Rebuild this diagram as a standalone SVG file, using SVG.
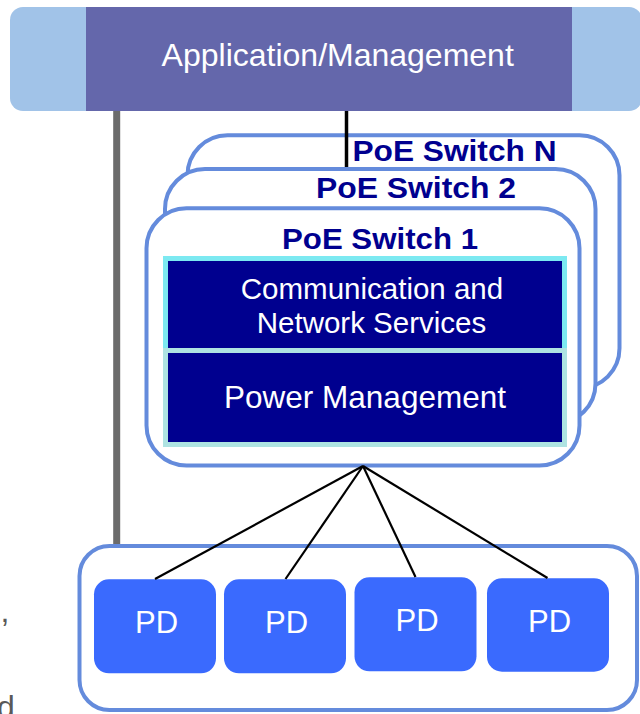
<svg xmlns="http://www.w3.org/2000/svg" width="640" height="714" viewBox="0 0 640 714">
  <style>
    .sw { fill: #ffffff; stroke: #648bdc; stroke-width: 4; }
    .swt { font-family: "Liberation Sans", Arial, sans-serif; font-weight: bold; font-size: 29.5px; fill: #00008f; text-anchor: middle; }
    .wt { font-family: "Liberation Sans", Arial, sans-serif; fill: #ffffff; text-anchor: middle; }
    .pd { fill: #3a6afe; }
    .wire { stroke: #000000; stroke-width: 2.2; fill: none; }
    .stray { font-family: "Liberation Sans", Arial, sans-serif; font-size: 32px; fill: #595959; }
  </style>

  <rect width="640" height="714" fill="#ffffff"/>

  <!-- partial text at the left margin -->
  <text class="stray" x="0.5" y="622">,</text>
  <text class="stray" x="-3" y="718">d</text>

  <!-- application / management bar -->
  <g id="app-mgmt">
    <rect x="10" y="7" width="632" height="104" rx="13" fill="#a1c3e8"/>
    <rect x="86" y="7" width="486" height="104" fill="#6467ab"/>
    <text class="wt" x="337.7" y="66" font-size="32">Application/Management</text>
  </g>

  <!-- stacked switches, back to front -->
  <g id="switch-n">
    <rect class="sw" x="187.5" y="135.3" width="432" height="253" rx="40"/>
    <text class="swt" x="454.5" y="160.7" textLength="204" lengthAdjust="spacingAndGlyphs">PoE Switch N</text>
  </g>

  <g id="switch-2">
    <rect class="sw" x="165" y="169" width="430.5" height="254.5" rx="40"/>
    <text class="swt" x="416" y="198" textLength="200" lengthAdjust="spacingAndGlyphs">PoE Switch 2</text>
  </g>

  <g id="switch-1">
    <rect class="sw" x="146.5" y="208.3" width="433" height="257.2" rx="40"/>
    <text class="swt" x="380" y="249" textLength="196" lengthAdjust="spacingAndGlyphs">PoE Switch 1</text>
  </g>

  <g id="comm-services">
    <rect x="165.5" y="258.5" width="399" height="92" fill="#00008f" stroke="#7ce9f1" stroke-width="5"/>
    <text class="wt" x="372" y="299" font-size="29.5">Communication and</text>
    <text class="wt" x="371.5" y="333" font-size="29.5">Network Services</text>
  </g>

  <g id="power-mgmt">
    <rect x="165.5" y="350.5" width="399" height="94" fill="#00008f" stroke="#aee3e2" stroke-width="5"/>
    <text class="wt" x="365" y="408.3" font-size="31.5">Power Management</text>
  </g>

  <!-- powered devices -->
  <g id="pd-group">
    <rect x="79.5" y="546" width="557.5" height="164" rx="30" fill="#ffffff" stroke="#648bdc" stroke-width="4"/>
  </g>

  <g id="pd-1">
    <rect class="pd" x="94" y="579.3" width="122" height="94" rx="15"/>
    <text class="wt" x="156.5" y="632.7" font-size="31">PD</text>
  </g>
  <g id="pd-2">
    <rect class="pd" x="224" y="579.3" width="122" height="94" rx="15"/>
    <text class="wt" x="286.5" y="632.7" font-size="31">PD</text>
  </g>
  <g id="pd-3">
    <rect class="pd" x="354.5" y="577.3" width="122" height="94" rx="15"/>
    <text class="wt" x="417" y="631" font-size="31">PD</text>
  </g>
  <g id="pd-4">
    <rect class="pd" x="487" y="578.3" width="122" height="93.4" rx="15"/>
    <text class="wt" x="549.6" y="631.7" font-size="31">PD</text>
  </g>

  <!-- connectors -->
  <g id="connectors">
    <line x1="116.7" y1="111" x2="116.7" y2="544" stroke="#6b6b6b" stroke-width="7"/>
    <line x1="346.5" y1="111" x2="346.5" y2="167" stroke="#000000" stroke-width="3.5"/>
    <line class="wire" x1="363" y1="466" x2="155" y2="579"/>
    <line class="wire" x1="363" y1="466" x2="285.5" y2="579"/>
    <line class="wire" x1="363" y1="466" x2="415.5" y2="577"/>
    <line class="wire" x1="363" y1="466" x2="547.5" y2="578"/>
  </g>
</svg>
